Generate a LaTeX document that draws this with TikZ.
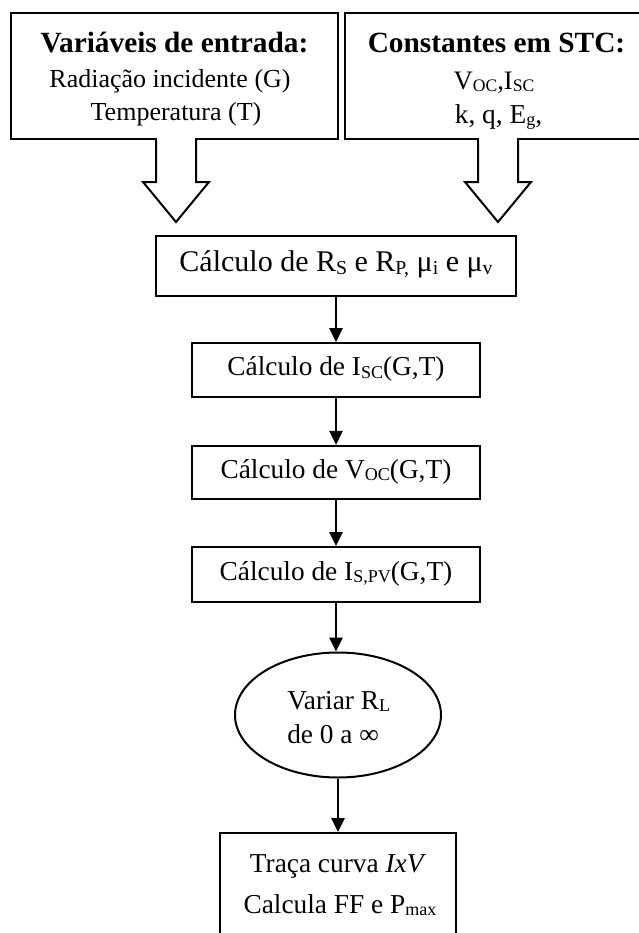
\documentclass[tikz,border=0pt]{standalone}
\usepackage{fontspec}
\setmainfont{Liberation Serif}
\usepackage{graphicx}
\usetikzlibrary{arrows.meta,shapes.geometric}
\newcommand\lo[1]{\raisebox{-0.1em}{\scalebox{0.66}{#1}}}
\begin{document}
\begin{tikzpicture}[x=0.75pt,y=-0.75pt,
  box/.style={draw, line width=1.5pt, rectangle, inner sep=0pt,
    font=\fontsize{20.5}{24}\selectfont, text height=0.85em, text depth=0em},
  arr/.style={-{Triangle[width=10pt,length=10.5pt]}, line width=1.5pt},
  txt/.style={inner sep=0pt, anchor=base, font=\fontsize{20.5}{24}\selectfont},
  ttl/.style={inner sep=0pt, anchor=base, font=\fontsize{22}{26}\selectfont\bfseries},
  blk/.style={line width=1.5pt, fill=white, line join=miter},
]
\useasboundingbox (0,0) rectangle (639,933);
% top boxes
\node[box, minimum width=245.25pt, minimum height=94.5pt] (inbox) at (174.5,76) {};
\node[box, minimum width=228pt, minimum height=94.5pt] (stc) at (497,76) {};
\node[ttl] (t1) at (174.5,52) {Variáveis de entrada:};
\node[txt, font=\fontsize{19.5}{24}\selectfont] (t2) at (170,87) {Radiação incidente (G)};
\node[txt, font=\fontsize{19.5}{24}\selectfont] (t3) at (176,120) {Temperatura (T)};
\node[ttl] (t4) at (496.5,52) {Constantes em STC:};
\node[txt, font=\fontsize{20}{24}\selectfont] (t5) at (494,89) {V\lo{OC},I\lo{SC}};
\node[txt, font=\fontsize{20.5}{24}\selectfont] (t6) at (498.5,123) {k, q, E\lo{g},};
% block arrows
\draw[blk] (156,139) -- (156,182) -- (143,182) -- (176,222) -- (209,182) -- (196,182) -- (196,139);
\fill[white] (157.2,136.5) rectangle (194.8,141);
\draw[blk] (478,139) -- (478,182) -- (465,182) -- (498,222) -- (531,182) -- (518,182) -- (518,139);
\fill[white] (479.2,136.5) rectangle (516.8,141);
% column
\node[box, minimum width=270pt, minimum height=45pt, font=\fontsize{22.5}{26}\selectfont, text height=0.78em] (rs) at (336,266)
  {Cálculo de R\lo{S} e R\lo{P,} μ\lo{i} e μ\lo{v}};
\node[box, minimum width=216pt, minimum height=40.5pt] (isc) at (336,370)
  {Cálculo de I\lo{SC}(G,T)};
\node[box, minimum width=216pt, minimum height=40pt] (voc) at (336,472.5)
  {Cálculo de V\lo{OC}(G,T)};
\node[box, minimum width=216pt, minimum height=41.25pt] (ispv) at (336,574.5)
  {Cálculo de I\lo{S,PV}(G,T)};
\node[draw, ellipse, line width=1.5pt, inner sep=0pt, minimum width=154.5pt, minimum height=93.75pt] (vr) at (338,715) {};
\node[txt, anchor=base west] (vr1) at (287,709) {Variar R\lo{L}};
\node[txt, anchor=base west] (vr2) at (287,743) {de 0 a ∞};
\node[box, minimum width=177pt, minimum height=117.75pt] (fin) at (338,911.5) {};
\node[txt] (f1) at (338,872) {Traça curva \textit{IxV}};
\node[txt] (f2) at (340,913) {Calcula FF e P\lo{max}};
% connectors
\draw[arr] (rs) -- (isc);
\draw[arr] (isc) -- (voc);
\draw[arr] (voc) -- (ispv);
\draw[arr] (ispv.south) -- (ispv.south |- vr.north);
\draw[arr] (vr.south -| fin.north) -- (fin.north);
\end{tikzpicture}
\end{document}
